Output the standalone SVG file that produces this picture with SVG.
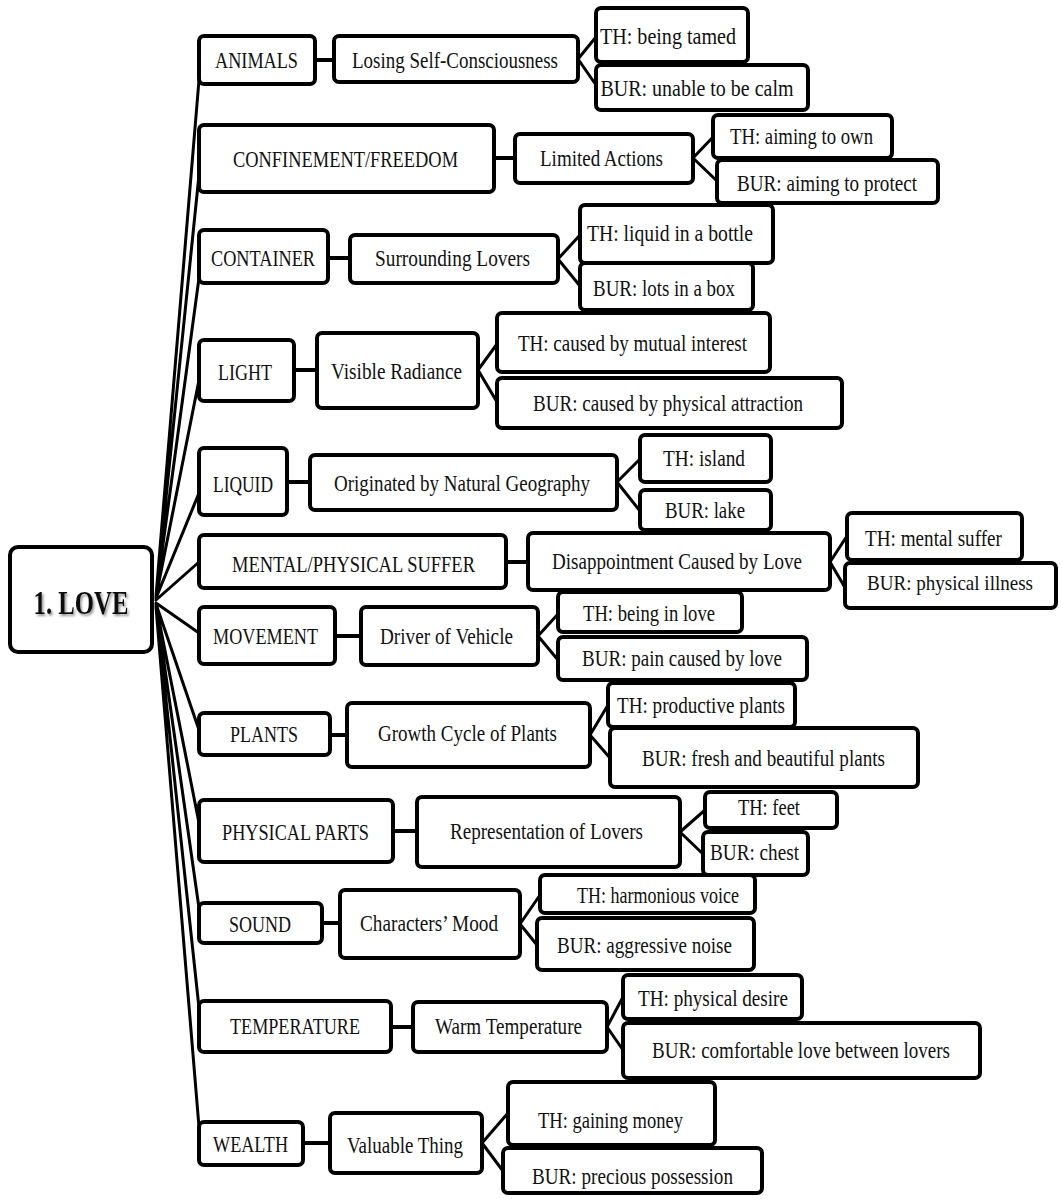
<svg xmlns="http://www.w3.org/2000/svg" width="1063" height="1201" viewBox="0 0 1063 1201">
<style>
.b{fill:#fff;stroke:#000;stroke-width:4}
.t{font-family:"Liberation Serif","Times New Roman",serif;font-size:23.5px;fill:#111;text-anchor:middle}
.r{font-family:"Liberation Serif","Times New Roman",serif;font-size:33px;font-weight:bold;fill:#111;text-anchor:middle}
.c{fill:none;stroke:#000;stroke-width:3;stroke-linecap:round;stroke-linejoin:round}
.h{fill:none;stroke:#000;stroke-width:4}
</style>
<defs>
<filter id="sh" x="-10%" y="-10%" width="130%" height="140%"><feDropShadow dx="1.5" dy="2" stdDeviation="1" flood-color="#777" flood-opacity="0.8"/></filter>
</defs>
<rect width="1063" height="1201" fill="#fff"/>
<g id="connectors">
<path class="c" d="M156 596 L199 80 M156 596 L199 175 M156 596 L199 278 M156 597 L199 380 M156 598 L199 493 M156 600 L199 562 M156 603 L199 633 M156 604 L199 730 M156 605 L199 823 M156 606 L199 908 M156 606 L199 1008 M156 607 L199 1127"/>
<path class="h" d="M315 60 H334 M494 158 H515 M328 258 H350 M294 370 H317 M287 482 H310 M506 562 H528 M335 636 H361 M330 735 H347 M393 831 H417 M322 923 H340 M391 1027 H413 M303 1143 H330"/>
<path class="c" d="M596 37 L578 59 L596 85 M713 137 L693 158 L717 181 M580 235 L558 259 L580 286 M497 344 L478 370 L497 402 M640 459 L617 482 L640 511 M847 536 L830 562 L847 591 M558 614 L538 636 L558 660 M608 705 L590 735 L610 758 M705 810 L680 832 L703 854 M540 895 L520 924 L537 945 M623 997 L607 1027 L623 1050 M508 1113 L482 1143 L503 1171"/>
</g>
<g id="root"><rect class="b" x="10" y="547" width="142" height="105" rx="8"/><text class="r" x="81" y="614" textLength="95" lengthAdjust="spacingAndGlyphs" filter="url(#sh)">1. LOVE</text></g>
<g id="n-animals"><rect class="b" x="199" y="36" width="116" height="48" rx="5"/><text class="t" x="256.5" y="68" textLength="83" lengthAdjust="spacingAndGlyphs">ANIMALS</text></g>
<g id="n-confinement"><rect class="b" x="199" y="125" width="295" height="67" rx="5"/><text class="t" x="345.5" y="167" textLength="225" lengthAdjust="spacingAndGlyphs">CONFINEMENT/FREEDOM</text></g>
<g id="n-container"><rect class="b" x="199" y="230" width="129" height="53" rx="5"/><text class="t" x="263" y="266" textLength="104" lengthAdjust="spacingAndGlyphs">CONTAINER</text></g>
<g id="n-light"><rect class="b" x="199" y="340" width="95" height="61" rx="5"/><text class="t" x="245" y="380" textLength="54" lengthAdjust="spacingAndGlyphs">LIGHT</text></g>
<g id="n-liquid"><rect class="b" x="199" y="448" width="88" height="67" rx="5"/><text class="t" x="243" y="492" textLength="60" lengthAdjust="spacingAndGlyphs">LIQUID</text></g>
<g id="n-mental"><rect class="b" x="199" y="535" width="307" height="53" rx="5"/><text class="t" x="353.5" y="572" textLength="243" lengthAdjust="spacingAndGlyphs">MENTAL/PHYSICAL  SUFFER</text></g>
<g id="n-movement"><rect class="b" x="199" y="607" width="136" height="57" rx="5"/><text class="t" x="265.5" y="644" textLength="105" lengthAdjust="spacingAndGlyphs">MOVEMENT</text></g>
<g id="n-plants"><rect class="b" x="199" y="713" width="131" height="42" rx="5"/><text class="t" x="264" y="742" textLength="68" lengthAdjust="spacingAndGlyphs">PLANTS</text></g>
<g id="n-physical"><rect class="b" x="199" y="800" width="194" height="62" rx="5"/><text class="t" x="295.5" y="840" textLength="147" lengthAdjust="spacingAndGlyphs">PHYSICAL  PARTS</text></g>
<g id="n-sound"><rect class="b" x="199" y="903" width="123" height="40" rx="5"/><text class="t" x="260" y="932" textLength="62" lengthAdjust="spacingAndGlyphs">SOUND</text></g>
<g id="n-temperature"><rect class="b" x="199" y="1001" width="192" height="51" rx="5"/><text class="t" x="295" y="1034" textLength="130" lengthAdjust="spacingAndGlyphs">TEMPERATURE</text></g>
<g id="n-wealth"><rect class="b" x="199" y="1122" width="104" height="43" rx="5"/><text class="t" x="250.5" y="1152" textLength="75" lengthAdjust="spacingAndGlyphs">WEALTH</text></g>
<g id="m-losing"><rect class="b" x="334" y="36" width="244" height="46" rx="5"/><text class="t" x="455" y="68" textLength="206" lengthAdjust="spacingAndGlyphs">Losing Self-Consciousness</text></g>
<g id="m-limited"><rect class="b" x="515" y="134" width="178" height="49" rx="5"/><text class="t" x="601.5" y="166" textLength="123" lengthAdjust="spacingAndGlyphs">Limited Actions</text></g>
<g id="m-surrounding"><rect class="b" x="350" y="235" width="208" height="48" rx="5"/><text class="t" x="452.5" y="266" textLength="155" lengthAdjust="spacingAndGlyphs">Surrounding Lovers</text></g>
<g id="m-visible"><rect class="b" x="317" y="333" width="161" height="75" rx="5"/><text class="t" x="396.5" y="379" textLength="131" lengthAdjust="spacingAndGlyphs">Visible Radiance</text></g>
<g id="m-originated"><rect class="b" x="310" y="455" width="307" height="55" rx="5"/><text class="t" x="462" y="491" textLength="256" lengthAdjust="spacingAndGlyphs">Originated by Natural Geography</text></g>
<g id="m-disappointment"><rect class="b" x="528" y="533" width="302" height="57" rx="5"/><text class="t" x="677" y="569" textLength="250" lengthAdjust="spacingAndGlyphs">Disappointment Caused by Love</text></g>
<g id="m-driver"><rect class="b" x="361" y="607" width="177" height="58" rx="5"/><text class="t" x="446.5" y="644" textLength="133" lengthAdjust="spacingAndGlyphs">Driver of Vehicle</text></g>
<g id="m-growth"><rect class="b" x="347" y="703" width="243" height="64" rx="5"/><text class="t" x="467.5" y="741" textLength="179" lengthAdjust="spacingAndGlyphs">Growth Cycle of Plants</text></g>
<g id="m-representation"><rect class="b" x="417" y="797" width="263" height="70" rx="5"/><text class="t" x="546.5" y="839" textLength="193" lengthAdjust="spacingAndGlyphs">Representation of Lovers</text></g>
<g id="m-characters"><rect class="b" x="340" y="890" width="180" height="68" rx="5"/><text class="t" x="429" y="931" textLength="138" lengthAdjust="spacingAndGlyphs">Characters’ Mood</text></g>
<g id="m-warm"><rect class="b" x="413" y="1002" width="194" height="50" rx="5"/><text class="t" x="508.5" y="1034" textLength="147" lengthAdjust="spacingAndGlyphs">Warm Temperature</text></g>
<g id="m-valuable"><rect class="b" x="330" y="1113" width="152" height="60" rx="5"/><text class="t" x="405" y="1153" textLength="116" lengthAdjust="spacingAndGlyphs">Valuable Thing</text></g>
<g id="l-tamed"><rect class="b" x="596" y="8" width="152" height="54" rx="5"/><text class="t" x="668" y="44" textLength="136" lengthAdjust="spacingAndGlyphs">TH: being tamed</text></g>
<g id="l-calm"><rect class="b" x="596" y="65" width="212" height="45" rx="5"/><text class="t" x="697" y="96" textLength="193" lengthAdjust="spacingAndGlyphs">BUR: unable to be calm</text></g>
<g id="l-own"><rect class="b" x="713" y="115" width="179" height="43" rx="5"/><text class="t" x="801.5" y="144" textLength="143" lengthAdjust="spacingAndGlyphs">TH: aiming to own</text></g>
<g id="l-protect"><rect class="b" x="717" y="160" width="221" height="43" rx="5"/><text class="t" x="827" y="191" textLength="180" lengthAdjust="spacingAndGlyphs">BUR: aiming to protect</text></g>
<g id="l-bottle"><rect class="b" x="580" y="205" width="193" height="58" rx="5"/><text class="t" x="670" y="241" textLength="166" lengthAdjust="spacingAndGlyphs">TH: liquid in a bottle</text></g>
<g id="l-box"><rect class="b" x="580" y="263" width="173" height="47" rx="5"/><text class="t" x="664" y="296" textLength="142" lengthAdjust="spacingAndGlyphs">BUR: lots in a box</text></g>
<g id="l-mutual"><rect class="b" x="497" y="313" width="273" height="59" rx="5"/><text class="t" x="632.5" y="351" textLength="229" lengthAdjust="spacingAndGlyphs">TH: caused by mutual interest</text></g>
<g id="l-attraction"><rect class="b" x="497" y="378" width="345" height="50" rx="5"/><text class="t" x="668" y="411" textLength="270" lengthAdjust="spacingAndGlyphs">BUR: caused by physical attraction</text></g>
<g id="l-island"><rect class="b" x="640" y="435" width="131" height="47" rx="5"/><text class="t" x="704" y="466" textLength="82" lengthAdjust="spacingAndGlyphs">TH: island</text></g>
<g id="l-lake"><rect class="b" x="640" y="490" width="131" height="40" rx="5"/><text class="t" x="705" y="518" textLength="80" lengthAdjust="spacingAndGlyphs">BUR: lake</text></g>
<g id="l-mental"><rect class="b" x="847" y="513" width="175" height="47" rx="5"/><text class="t" x="933.5" y="546" textLength="137" lengthAdjust="spacingAndGlyphs">TH: mental suffer</text></g>
<g id="l-illness"><rect class="b" x="845" y="563" width="211" height="45" rx="5"/><text class="t" x="950" y="590" textLength="166" lengthAdjust="spacingAndGlyphs" style="font-size:21px">BUR: physical illness</text></g>
<g id="l-inlove"><rect class="b" x="558" y="592" width="184" height="40" rx="5"/><text class="t" x="649" y="621" textLength="132" lengthAdjust="spacingAndGlyphs">TH: being in love</text></g>
<g id="l-pain"><rect class="b" x="558" y="637" width="249" height="43" rx="5"/><text class="t" x="682" y="666" textLength="200" lengthAdjust="spacingAndGlyphs">BUR: pain caused by love</text></g>
<g id="l-productive"><rect class="b" x="608" y="683" width="187" height="44" rx="5"/><text class="t" x="701" y="713" textLength="168" lengthAdjust="spacingAndGlyphs">TH: productive plants</text></g>
<g id="l-fresh"><rect class="b" x="610" y="728" width="308" height="59" rx="5"/><text class="t" x="763.5" y="766" textLength="243" lengthAdjust="spacingAndGlyphs">BUR: fresh and beautiful plants</text></g>
<g id="l-feet"><rect class="b" x="705" y="792" width="132" height="36" rx="5"/><text class="t" x="769" y="815" textLength="62" lengthAdjust="spacingAndGlyphs">TH: feet</text></g>
<g id="l-chest"><rect class="b" x="703" y="832" width="105" height="43" rx="5"/><text class="t" x="754.5" y="860" textLength="89" lengthAdjust="spacingAndGlyphs">BUR: chest</text></g>
<g id="l-harmonious"><rect class="b" x="540" y="875" width="215" height="38" rx="5"/><text class="t" x="658" y="903" textLength="162" lengthAdjust="spacingAndGlyphs">TH: harmonious voice</text></g>
<g id="l-aggressive"><rect class="b" x="537" y="918" width="217" height="52" rx="5"/><text class="t" x="644.5" y="953" textLength="175" lengthAdjust="spacingAndGlyphs">BUR: aggressive noise</text></g>
<g id="l-desire"><rect class="b" x="623" y="975" width="179" height="44" rx="5"/><text class="t" x="713" y="1006" textLength="150" lengthAdjust="spacingAndGlyphs">TH: physical desire</text></g>
<g id="l-comfortable"><rect class="b" x="623" y="1023" width="357" height="55" rx="5"/><text class="t" x="801" y="1058" textLength="298" lengthAdjust="spacingAndGlyphs">BUR: comfortable love between lovers</text></g>
<g id="l-money"><rect class="b" x="508" y="1082" width="207" height="63" rx="5"/><text class="t" x="610.5" y="1128" textLength="145" lengthAdjust="spacingAndGlyphs">TH: gaining money</text></g>
<g id="l-possession"><rect class="b" x="503" y="1148" width="259" height="45" rx="5"/><text class="t" x="632.5" y="1184" textLength="201" lengthAdjust="spacingAndGlyphs">BUR: precious possession</text></g>
</svg>
